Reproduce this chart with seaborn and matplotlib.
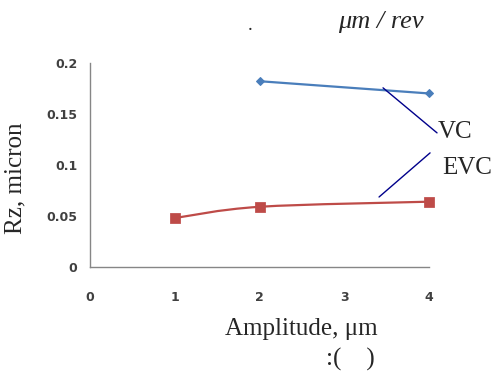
import numpy as np
import pandas as pd
import matplotlib
matplotlib.use("Agg")
import matplotlib.pyplot as plt
from matplotlib.path import Path
from matplotlib.patches import PathPatch
import seaborn as sns

# Datos
vc_amp = [2, 4]
vc_rz = [0.182, 0.170]
evc_amp = [1, 2, 4]
evc_rz = [0.048, 0.059, 0.064]
x_ticks = [0, 1, 2, 3, 4]
y_ticks = [0, 0.05, 0.1, 0.15, 0.2]
y_tick_labels = ["0", "0.05", "0.1", "0.15", "0.2"]

VC_COLOR = "#4A7EBB"
EVC_COLOR = "#BE4B48"
AXIS_COLOR = "#868686"
TICK_COLOR = "#404040"
LEADER_COLOR = "#00008B"

vc = pd.DataFrame({"amp": vc_amp, "rz": vc_rz})
evc = pd.DataFrame({"amp": evc_amp, "rz": evc_rz})

sns.set_style("white")
plt.rcParams["font.family"] = ["DejaVu Sans"]

fig = plt.figure(figsize=(4.93, 3.74), dpi=100)
ax = fig.add_axes([0.1826, 0.286, 0.6877, 0.546])

# Serie VC: linea recta con rombos
sns.lineplot(data=vc, x="amp", y="rz", ax=ax, color=VC_COLOR, linewidth=1.6,
             marker="D", markersize=4.5, markeredgecolor=VC_COLOR, clip_on=False)


# Serie EVC: curva suavizada (estilo Excel) con cuadrados
def smooth_path(xs, ys):
    pts = np.column_stack([xs, ys]).astype(float)
    n = len(pts)
    verts = [pts[0]]
    codes = [Path.MOVETO]
    for i in range(n - 1):
        p_prev = pts[i - 1] if i > 0 else pts[i]
        p_next2 = pts[i + 2] if i + 2 < n else pts[i + 1]
        c1 = pts[i] + (pts[i + 1] - p_prev) / 6
        c2 = pts[i + 1] - (p_next2 - pts[i]) / 6
        verts += [c1, c2, pts[i + 1]]
        codes += [Path.CURVE4] * 3
    return Path(verts, codes)


ax.add_patch(PathPatch(smooth_path(evc_amp, evc_rz), facecolor="none",
                       edgecolor=EVC_COLOR, linewidth=1.6, clip_on=False))
sns.scatterplot(data=evc, x="amp", y="rz", ax=ax, color=EVC_COLOR, marker="s",
                s=45, edgecolor=EVC_COLOR, zorder=3, clip_on=False)

ax.set_xlim(0, 4)
ax.set_ylim(0, 0.2)
ax.set_xticks(x_ticks)
ax.set_yticks(y_ticks)
ax.set_yticklabels(y_tick_labels)
ax.set_xlabel("")
ax.set_ylabel("")

for side in ["top", "right"]:
    ax.spines[side].set_visible(False)
for side in ["left", "bottom"]:
    ax.spines[side].set_color(AXIS_COLOR)
    ax.spines[side].set_linewidth(1.0)

ax.tick_params(axis="both", which="major", length=3.5, width=1.0, color=AXIS_COLOR,
               labelsize=9, labelcolor=TICK_COLOR)
ax.tick_params(axis="y", pad=5.5)
ax.tick_params(axis="x", pad=14)
for lab in ax.get_xticklabels() + ax.get_yticklabels():
    lab.set_fontweight("bold")

serif = ["Liberation Serif", "DejaVu Serif"]

# Etiquetas de los ejes y titulo
fig.text(15 / 493, 1 - 178 / 374, "Rz, micron", rotation=90, ha="center",
         va="center", fontsize=18, family=serif)
fig.text(301 / 493, 1 - 329 / 374, "Amplitude, \u03bcm", ha="center", va="center",
         fontsize=18, family=serif)
fig.text(350 / 493, 1 - 359 / 374, ":(    )", ha="center", va="center",
         fontsize=18, family=serif)
fig.text(250 / 493, 1 - 25 / 374, ".", ha="center", va="center",
         fontsize=14, family=serif)
fig.text(381 / 493, 1 - 22 / 374, "\u03bcm / rev", ha="center", va="center",
         fontsize=19, family=serif, style="italic")

# Nombres de las series con sus lineas de referencia
fig.text(438 / 493, 1 - 132 / 374, "VC", ha="left", va="center",
         fontsize=18, family=serif)
fig.text(442 / 493, 1 - 168 / 374, "EVC", ha="left", va="center",
         fontsize=18, family=serif)
ax.plot([3.457, 4.094], [0.1755, 0.1314], color=LEADER_COLOR, lw=1.0, clip_on=False)
ax.plot([3.410, 4.012], [0.0686, 0.1118], color=LEADER_COLOR, lw=1.0, clip_on=False)

fig.savefig("out.png", dpi=100)
